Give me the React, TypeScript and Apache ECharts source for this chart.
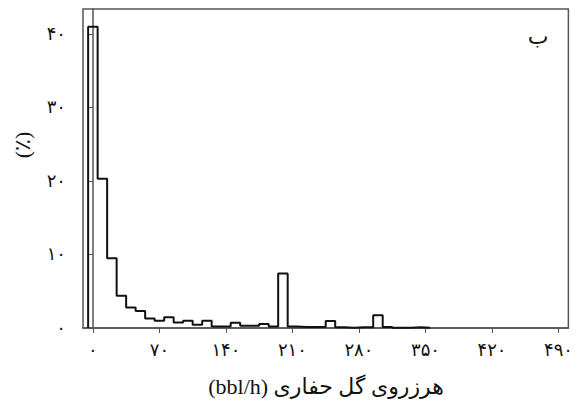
import React, { useEffect, useRef } from "react";
import * as echarts from "echarts";

// Histogram bins (centre of each 10 bbl/h bin) and share of records (%)
const binCenters = [
  0, 10, 20, 30, 40, 50, 60, 70, 80, 90, 100, 110, 120, 130, 140, 150, 160, 170,
  180, 190, 200, 210, 220, 230, 240, 250, 260, 270, 280, 290, 300, 310, 320, 330, 340, 350,
];
const binPercent = [
  41, 20.3, 9.5, 4.4, 2.8, 2.3, 1.3, 1.0, 1.45, 0.75, 1.0, 0.45, 1.0, 0.2, 0.2, 0.7, 0.3, 0.3,
  0.55, 0.2, 7.4, 0.2, 0.15, 0.15, 0.15, 0.95, 0.1, 0.05, 0.1, 0.1, 1.75, 0.15, 0.05, 0.05, 0.1, 0.05,
];
const binWidth = 10;

const xTickValues = [0, 70, 140, 210, 280, 350, 420, 490];
const xTickLabels = ["۰", "۷۰", "۱۴۰", "۲۱۰", "۲۸۰", "۳۵۰", "۴۲۰", "۴۹۰"];
const yTickValues = [0, 10, 20, 30, 40];
const yTickLabels = ["۰", "۱۰", "۲۰", "۳۰", "۴۰"];

const xAxisTitle = "(bbl/h) هرزروی گل حفاری";
const yAxisTitle = "(٪)";
const panelLetter = "ب";

const FONT = "'Liberation Serif', 'DejaVu Sans', serif";

export default function App() {
  const ref = useRef<HTMLDivElement>(null);
  useEffect(() => {
    if (!ref.current) return;
    const chart = echarts.init(ref.current, undefined, { renderer: "svg" });

    const pts: number[][] = [];
    pts.push([binCenters[0] - binWidth / 2, 0]);
    binCenters.forEach((c, i) => {
      pts.push([c - binWidth / 2, binPercent[i]]);
      pts.push([c + binWidth / 2, binPercent[i]]);
    });
    pts.push([binCenters[binCenters.length - 1] + binWidth / 2, 0]);

    const xMap: Record<number, string> = {};
    xTickValues.forEach((v, i) => (xMap[v] = xTickLabels[i]));
    const yMap: Record<number, string> = {};
    yTickValues.forEach((v, i) => (yMap[v] = yTickLabels[i]));

    chart.setOption({
      animation: false,
      backgroundColor: "#fff",
      grid: {
        left: 83,
        right: 3,
        top: 9,
        bottom: 72,
        show: true,
        borderColor: "#555",
        borderWidth: 1.5,
        containLabel: false,
      },
      xAxis: {
        type: "value",
        min: -10.4,
        max: 500.4,
        axisLine: { show: true, onZero: false, lineStyle: { color: "#555", width: 1.5 } },
        axisTick: {
          show: true,
          customValues: xTickValues,
          length: 5,
          lineStyle: { color: "#555", width: 1 },
        },
        axisLabel: {
          customValues: xTickValues,
          formatter: (v: number) => xMap[v] ?? "",
          color: "#111",
          fontSize: 18,
          fontFamily: FONT,
          margin: 13,
        },
        splitLine: { show: false },
      },
      yAxis: {
        type: "value",
        min: 0,
        max: 43.4,
        axisLine: { show: true, lineStyle: { color: "#555", width: 1.5 } },
        axisTick: {
          show: true,
          customValues: yTickValues,
          length: 4,
          lineStyle: { color: "#555", width: 1 },
        },
        axisLabel: {
          customValues: yTickValues,
          formatter: (v: number) => yMap[v] ?? "",
          color: "#111",
          fontSize: 18,
          fontFamily: FONT,
          margin: 17,
        },
        splitLine: { show: false },
      },
      series: [
        {
          type: "line",
          data: pts,
          symbol: "none",
          lineStyle: { color: "#111", width: 2 },
          clip: true,
        },
      ],
      graphic: [
        {
          type: "text",
          x: 538,
          y: 36,
          style: {
            text: panelLetter,
            fontSize: 22,
            fontFamily: FONT,
            fill: "#111",
            align: "center",
            verticalAlign: "middle",
          },
        },
        {
          type: "text",
          x: 326,
          y: 386,
          style: {
            text: xAxisTitle,
            fontSize: 22,
            fontFamily: FONT,
            fill: "#111",
            align: "center",
            verticalAlign: "middle",
          },
        },
        {
          type: "text",
          x: 22,
          y: 145,
          rotation: Math.PI / 2,
          style: {
            text: yAxisTitle,
            fontSize: 22,
            fontFamily: FONT,
            fill: "#111",
            align: "center",
            verticalAlign: "middle",
          },
        },
      ],
    });
    return () => chart.dispose();
  }, []);
  return (
    <div
      ref={ref}
      style={{ position: "fixed", left: 0, top: 0, width: 576, height: 400 }}
    />
  );
}
